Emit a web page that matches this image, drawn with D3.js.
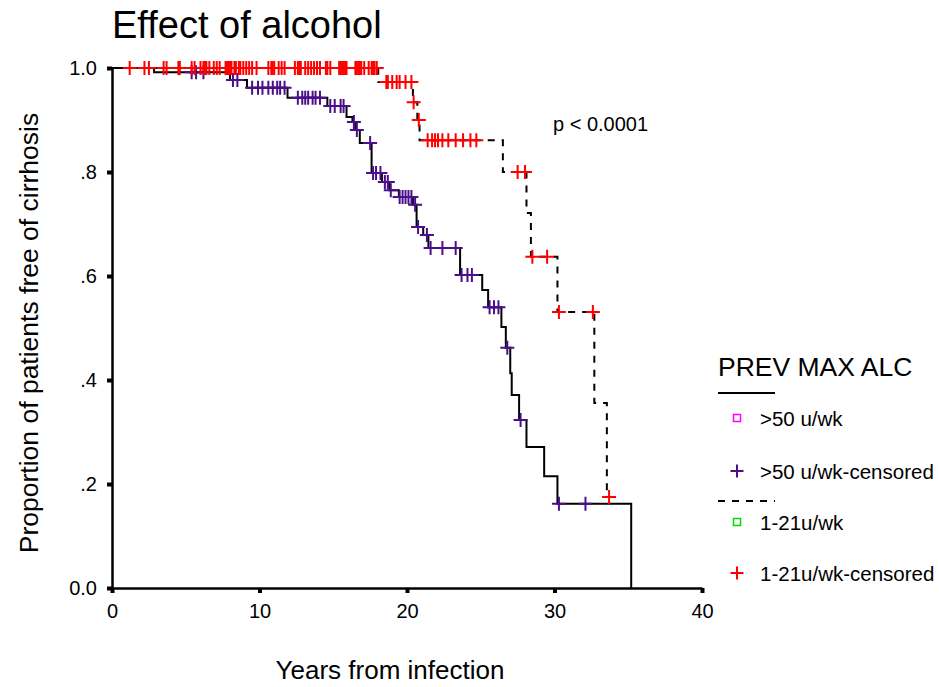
<!DOCTYPE html>
<html>
<head>
<meta charset="utf-8">
<script src="https://cdn.jsdelivr.net/npm/d3@7"></script>
<style>
  body { margin: 0; background: #fff; }
  svg text { font-family: "Liberation Sans", Arial, sans-serif; fill: #000; }
</style>
</head>
<body>
<div id="chart"></div>
<script>
// x ticks and y ticks
var xTicks = [0, 10, 20, 30, 40];
var yTicks = [0, 0.2, 0.4, 0.6, 0.8, 1.0];
var yTickLabels = ["0.0", ".2", ".4", ".6", ".8", "1.0"];

// >50 u/wk : step times and survival after each step
var heavyTimes = [0, 2.85, 8.0, 9.15, 11.9, 14.6, 15.9, 16.3, 16.5, 16.8, 17.6, 18.3, 18.8, 19.45, 20.4, 20.65, 21.1, 21.45, 23.6, 25.1, 25.5, 26.4, 26.7, 27.0, 27.1, 27.6, 28.1, 29.3, 30.2, 35.2];
var heavySurv  = [1, 0.992, 0.977, 0.962, 0.943, 0.927, 0.906, 0.896, 0.881, 0.856, 0.798, 0.781, 0.765, 0.752, 0.737, 0.694, 0.679, 0.654, 0.602, 0.573, 0.540, 0.502, 0.462, 0.413, 0.371, 0.323, 0.271, 0.215, 0.162, 0];
var heavyCensored = [5.4, 5.7, 6.2, 8.2, 8.5, 9.5, 9.9, 10.2, 10.6, 10.9, 11.2, 11.4, 11.7,
  12.6, 12.9, 13.1, 13.3, 13.6, 13.8, 14.1, 14.8, 15.1, 15.5, 15.7, 16.4, 16.6, 17.5,
  17.7, 17.9, 18.2, 18.5, 18.7, 18.9, 19.5, 19.7, 19.9, 20.1, 20.3, 20.55, 20.75, 21.35,
  21.6, 22.4, 23.3, 23.7, 24.1, 24.4, 25.6, 25.9, 26.2, 26.8, 27.7, 30.3, 32.1];

// 1-21u/wk
var lightTimes = [0, 18.05, 20.4, 20.7, 20.85, 26.5, 28.1, 28.4, 30.2, 32.7, 33.55];
var lightSurv  = [1, 0.973, 0.934, 0.900, 0.861, 0.800, 0.721, 0.637, 0.531, 0.356, 0.175];
var lightEnd = 33.7;
var lightCensored = [1.2, 2.2, 2.5, 3.5, 3.7, 4.5, 4.6, 5.4, 5.6, 6.0, 6.2, 6.3, 6.4, 6.6, 6.9,
  7.1, 7.3, 7.7, 7.8, 7.9, 8.0, 8.1, 8.3, 8.4, 8.6, 8.7, 8.9, 9.1, 9.3, 9.5, 9.8,
  10.6, 10.8, 10.9, 11.0, 11.3, 11.5, 11.7, 12.4, 12.6, 12.7, 12.8, 13.1, 13.3, 13.5,
  13.7, 13.9, 14.1, 14.5, 14.6, 14.8, 15.4, 15.5, 15.6, 15.7, 15.8, 15.9, 16.5, 16.6,
  16.7, 16.8, 16.9, 17.1, 17.4, 17.6, 17.7, 17.8, 17.95,
  18.6, 18.7, 19.0, 19.3, 19.5, 19.9, 20.3, 20.45, 20.8,
  21.4, 21.7, 21.9, 22.1, 22.4, 22.8, 23.3, 23.8, 24.3, 24.7,
  27.5, 28.0, 28.5, 29.5, 30.3, 32.6, 33.7];

var legendLabels = [">50 u/wk", ">50 u/wk-censored", "1-21u/wk", "1-21u/wk-censored"];

var width = 939, height = 687;
var svg = d3.select("#chart").append("svg")
    .attr("width", width)
    .attr("height", height);

var x = d3.scaleLinear().domain([0, 40]).range([112, 702]);
var y = d3.scaleLinear().domain([0, 1]).range([588, 68]);

// survival value at time t from a step table
function survAt(times, surv, t) {
  var i = d3.bisectRight(times, t) - 1;
  return surv[Math.max(0, i)];
}

function stepPoints(times, surv, end) {
  var pts = times.map(function(t, i) { return [t, surv[i]]; });
  if (end != null) pts.push([end, surv[surv.length - 1]]);
  return pts;
}

var line = d3.line()
    .x(function(d) { return x(d[0]); })
    .y(function(d) { return y(d[1]); })
    .curve(d3.curveStepAfter);

// title
svg.append("text")
    .attr("x", 112).attr("y", 38)
    .style("font-size", "38px")
    .text("Effect of alcohol");

// axes
var yAxis = svg.append("g")
    .attr("transform", "translate(112,0)")
    .call(d3.axisLeft(y).tickValues(yTicks)
      .tickFormat(function(d, i) { return yTickLabels[i]; })
      .tickSize(5).tickSizeOuter(0).tickPadding(10));
var xAxis = svg.append("g")
    .attr("transform", "translate(0,588)")
    .call(d3.axisBottom(x).tickValues(xTicks)
      .tickSize(5).tickSizeOuter(0).tickPadding(11));
[yAxis, xAxis].forEach(function(a) {
  a.select(".domain").attr("stroke-width", 2.5);
  a.selectAll(".tick line").attr("stroke-width", 4);
  a.selectAll(".tick text").style("font-size", "20px");
});

// curves
svg.append("path")
    .datum(stepPoints(heavyTimes, heavySurv))
    .attr("d", line)
    .attr("fill", "none").attr("stroke", "#000").attr("stroke-width", 2);

svg.append("path")
    .datum(stepPoints(lightTimes, lightSurv, lightEnd))
    .attr("d", line)
    .attr("fill", "none").attr("stroke", "#000").attr("stroke-width", 2)
    .attr("stroke-dasharray", "7,7");

function crosses(cls, data, times, surv, color) {
  svg.selectAll("." + cls)
    .data(data)
    .enter().append("path")
      .attr("class", cls)
      .attr("transform", function(d) {
        return "translate(" + x(d) + "," + y(survAt(times, surv, d)) + ")";
      })
      .attr("d", "M-7,0H7M0,-7V7")
      .attr("stroke", color).attr("stroke-width", 2)
      .attr("fill", "none");
}
crosses("hc", heavyCensored, heavyTimes, heavySurv, "#4b0f8c");
crosses("lc", lightCensored, lightTimes, lightSurv, "#ff0000");

// p value
svg.append("text")
    .attr("x", 553).attr("y", 131)
    .style("font-size", "20px")
    .text("p < 0.0001");

// axis titles
svg.append("text")
    .attr("transform", "translate(38,333) rotate(-90)")
    .attr("text-anchor", "middle")
    .style("font-size", "26.5px")
    .text("Proportion of patients free of cirrhosis");
svg.append("text")
    .attr("x", 390).attr("y", 679)
    .attr("text-anchor", "middle")
    .style("font-size", "26px")
    .text("Years from infection");

// legend
var lg = svg.append("g");
lg.append("text").attr("x", 718).attr("y", 376)
    .style("font-size", "26.5px").text("PREV MAX ALC");
lg.append("line").attr("x1", 718).attr("x2", 775).attr("y1", 393).attr("y2", 393)
    .attr("stroke", "#000").attr("stroke-width", 2);
lg.append("line").attr("x1", 718).attr("x2", 775).attr("y1", 501).attr("y2", 501)
    .attr("stroke", "#000").attr("stroke-width", 2).attr("stroke-dasharray", "7,7");

var legendRows = [
  {y: 418, type: "sq", color: "#ff00ff"},
  {y: 471, type: "cross", color: "#4b0f8c"},
  {y: 522, type: "sq", color: "#00dd00"},
  {y: 573, type: "cross", color: "#ff0000"}
];
legendRows.forEach(function(r, i) {
  if (r.type == "sq") {
    lg.append("rect").attr("x", 733.5).attr("y", r.y - 3.5)
      .attr("width", 7).attr("height", 7)
      .attr("fill", "none").attr("stroke", r.color).attr("stroke-width", 1.5);
  } else {
    lg.append("path")
      .attr("transform", "translate(737," + r.y + ")")
      .attr("d", "M-6.5,0H6.5M0,-6.5V6.5")
      .attr("stroke", r.color).attr("stroke-width", 2);
  }
  lg.append("text").attr("x", 760).attr("y", r.y + 8)
    .style("font-size", "20.5px").text(legendLabels[i]);
});
</script>
</body>
</html>
